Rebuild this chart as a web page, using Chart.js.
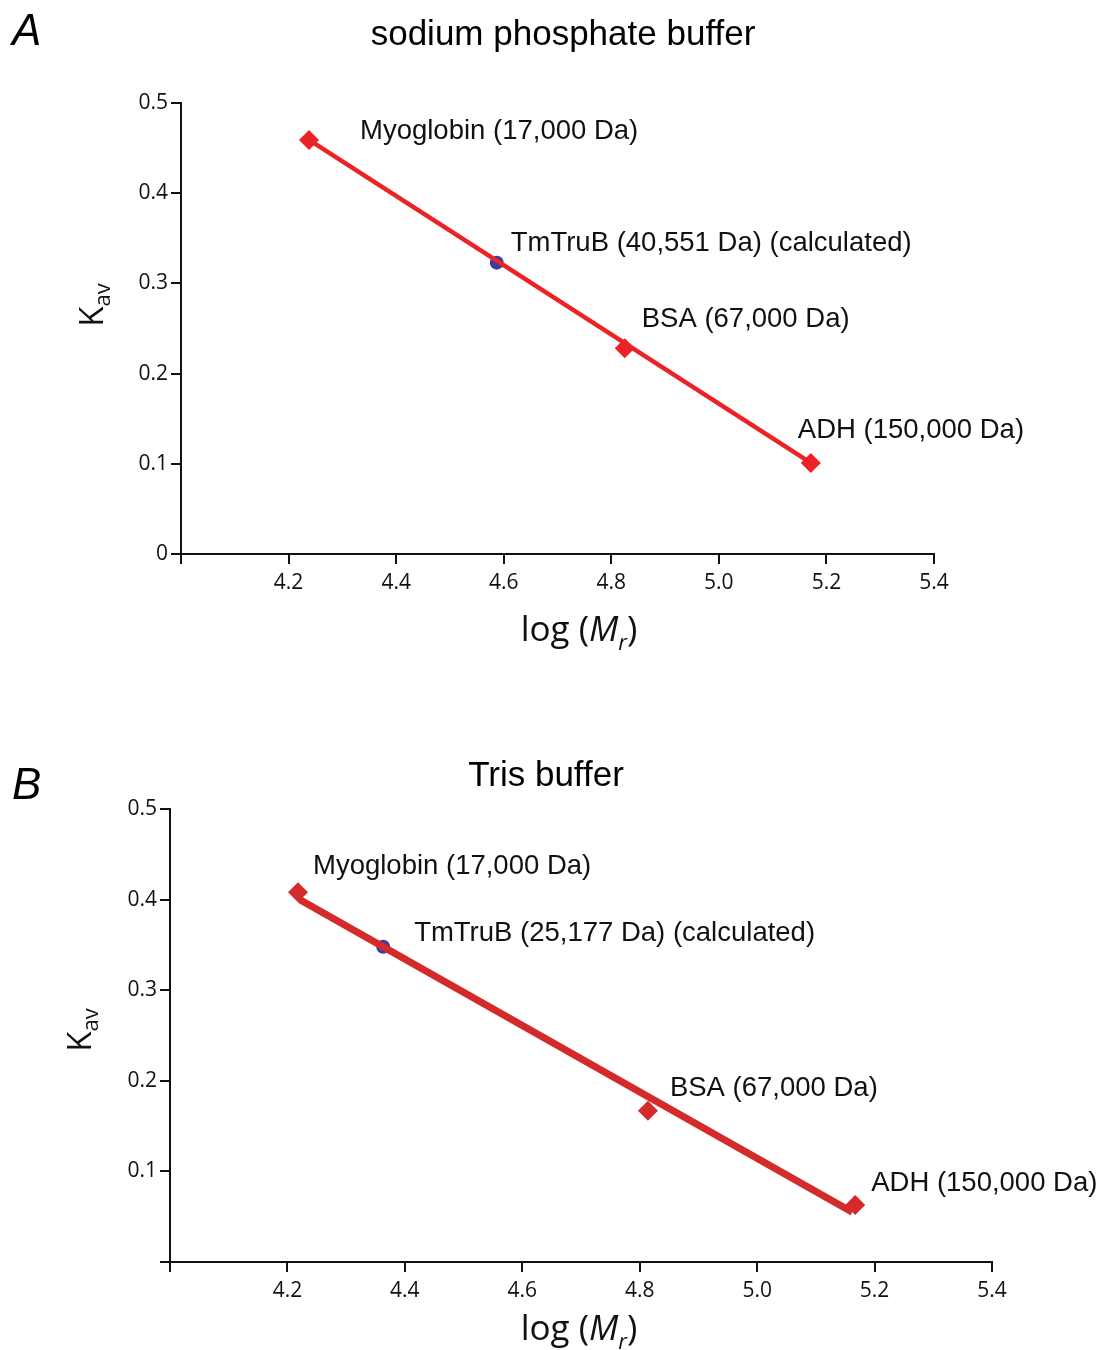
<!DOCTYPE html>
<html>
<head>
<meta charset="utf-8">
<script src="https://cdn.jsdelivr.net/npm/chart.js@4.4.1/dist/chart.umd.min.js"></script>
<style>
  body { margin: 0; background: #fff; }
  canvas { position: absolute; left: 0; }
</style>
</head>
<body>
<canvas id="panel_a" width="1104" height="675" style="top:0"></canvas>
<canvas id="panel_b" width="1104" height="675" style="top:675px"></canvas>
<script>
// Panel A - sodium phosphate buffer
const standardNamesA = ['Myoglobin (17,000 Da)', 'BSA (67,000 Da)', 'ADH (150,000 Da)']
const standardLogMrA = [4.238, 4.825, 5.171]
const standardKavA = [0.459, 0.228, 0.101]
const sampleNameA = 'TmTruB (40,551 Da) (calculated)'
const sampleLogMrA = [4.587]
const sampleKavA = [0.323]
const fitLogMrA = [4.238, 5.171]
const fitKavA = [0.459, 0.101]

// Panel B - Tris buffer
const standardNamesB = ['Myoglobin (17,000 Da)', 'BSA (67,000 Da)', 'ADH (150,000 Da)']
const standardLogMrB = [4.218, 4.814, 5.167]
const standardKavB = [0.408, 0.167, 0.063]
const sampleNameB = 'TmTruB (25,177 Da) (calculated)'
const sampleLogMrB = [4.363]
const sampleKavB = [0.348]
const fitLogMrB = [4.221, 5.162]
const fitKavB = [0.400, 0.055]

const xTicks = [4.0, 4.2, 4.4, 4.6, 4.8, 5.0, 5.2, 5.4]
const yTicks = [0, 0.1, 0.2, 0.3, 0.4, 0.5]

const ink = '#111'
const tickFont = { family: 'Open Sans', size: 21 }

function toPoints(xs, ys) {
    return xs.map((x, i) => ({ x: x, y: ys[i] }))
}

// draws panel letter, title, axis titles and the point labels
const panelText = {
    id: 'panelText',
    afterDatasetsDraw(chart, args, o) {
        const ctx = chart.ctx
        ctx.save()
        ctx.fillStyle = '#000'
        ctx.textBaseline = 'alphabetic'

        ctx.font = 'italic 44px "Liberation Sans"'
        ctx.textAlign = 'left'
        ctx.fillText(o.letter, 12, o.letterY)

        ctx.font = '35px "Liberation Sans"'
        ctx.textAlign = 'center'
        ctx.fillText(o.title, o.titleX, o.titleY)

        // x title: log (M_r)
        ctx.fillStyle = ink
        ctx.textAlign = 'left'
        const big = '35px "Open Sans"', ital = 'italic 35px "Open Sans"', sub = 'italic 22px "Open Sans"'
        const parts = [['log (', big, 0], ['M', ital, 0], ['r', sub, 9], [')', big, 0]]
        let w = 0
        parts.forEach(p => { ctx.font = p[1]; w += ctx.measureText(p[0]).width })
        let x = o.xTitleX - w / 2
        parts.forEach(p => {
            ctx.font = p[1]
            ctx.fillText(p[0], x, o.xTitleY + p[2])
            x += ctx.measureText(p[0]).width
        })

        // y title: K_av
        ctx.save()
        ctx.translate(o.yTitleX, o.yTitleY)
        ctx.rotate(-Math.PI / 2)
        ctx.font = '33px "Open Sans"'
        const kw = ctx.measureText('K').width
        ctx.font = '22px "Open Sans"'
        const sw = ctx.measureText('av').width
        ctx.font = '33px "Open Sans"'
        ctx.fillText('K', -(kw + sw) / 2, 11)
        ctx.font = '22px "Open Sans"'
        ctx.fillText('av', -(kw + sw) / 2 + kw, 18)
        ctx.restore()

        // labels beside the points
        ctx.font = '27.5px "Liberation Sans"'
        ctx.fillStyle = '#111'
        ctx.textBaseline = 'middle'
        const std = chart.getDatasetMeta(1).data
        std.forEach((pt, i) => {
            ctx.fillText(o.names[i], pt.x + o.offsets[i][0], pt.y + o.offsets[i][1])
        })
        const smp = chart.getDatasetMeta(2).data[0]
        ctx.fillText(o.sampleName, smp.x + o.sampleOffset[0], smp.y + o.sampleOffset[1])
        ctx.restore()
    }
}

function makePanel(id, d) {
    const context = document.querySelector(id).getContext('2d')
    return new Chart(context, {
        type: 'scatter',
        data: {
            datasets: [{
                data: toPoints(d.fitX, d.fitY),
                showLine: true,
                borderColor: d.lineColor,
                borderWidth: d.lineWidth,
                pointRadius: 0,
            }, {
                data: toPoints(d.stdX, d.stdY),
                pointStyle: 'rectRot',
                pointRadius: 10,
                backgroundColor: d.lineColor,
                borderWidth: 0,
            }, {
                data: toPoints(d.smpX, d.smpY),
                pointStyle: 'circle',
                pointRadius: 7,
                backgroundColor: '#3b3f9c',
                borderWidth: 0,
            }],
        },
        options: {
            responsive: false,
            animation: false,
            events: [],
            layout: { padding: d.padding },
            plugins: {
                legend: { display: false },
                tooltip: { enabled: false },
                panelText: d.text,
            },
            scales: {
                x: {
                    type: 'linear',
                    min: xTicks[0],
                    max: xTicks[xTicks.length - 1],
                    afterBuildTicks: s => { s.ticks = xTicks.map(v => ({ value: v })) },
                    afterFit: s => { s.height = 80 },
                    ticks: {
                        font: tickFont,
                        color: ink,
                        padding: 6,
                        maxRotation: 0,
                        callback: v => v === xTicks[0] ? '' : v.toFixed(1),
                    },
                    grid: { drawOnChartArea: false, drawTicks: true, tickLength: 10, color: ink, lineWidth: 2 },
                    border: { display: true, color: ink, width: 2 },
                },
                y: {
                    min: yTicks[0],
                    max: yTicks[yTicks.length - 1],
                    afterBuildTicks: s => { s.ticks = yTicks.map(v => ({ value: v })) },
                    afterFit: s => { s.width = 60 },
                    ticks: {
                        font: tickFont,
                        color: ink,
                        padding: 3,
                        callback: v => v === 0 ? d.zeroLabel : v.toFixed(1),
                    },
                    grid: { drawOnChartArea: false, drawTicks: true, tickLength: 10, color: ink, lineWidth: 2 },
                    border: { display: true, color: ink, width: 2 },
                },
            },
        },
        plugins: [panelText],
    })
}

window.onload = function () {
    makePanel('#panel_a', {
        fitX: fitLogMrA, fitY: fitKavA,
        stdX: standardLogMrA, stdY: standardKavA,
        smpX: sampleLogMrA, smpY: sampleKavA,
        lineColor: '#ec2227', lineWidth: 4.5,
        zeroLabel: '0',
        padding: { left: 121, right: 170, top: 103, bottom: 41 },
        text: {
            letter: 'A', letterY: 45,
            title: 'sodium phosphate buffer', titleX: 563, titleY: 45,
            xTitleX: 579, xTitleY: 641,
            yTitleX: 92, yTitleY: 305,
            names: standardNamesA,
            offsets: [[51, -9], [17, -29], [-13, -32]],
            sampleName: sampleNameA, sampleOffset: [14, -19],
        },
    })
    makePanel('#panel_b', {
        fitX: fitLogMrB, fitY: fitKavB,
        stdX: standardLogMrB, stdY: standardKavB,
        smpX: sampleLogMrB, smpY: sampleKavB,
        lineColor: '#d42a2a', lineWidth: 7,
        zeroLabel: '',
        padding: { left: 110, right: 112, top: 134, bottom: 8 },
        text: {
            letter: 'B', letterY: 124,
            title: 'Tris buffer', titleX: 546, titleY: 111,
            xTitleX: 579, xTitleY: 665,
            yTitleX: 80, yTitleY: 355,
            names: standardNamesB,
            offsets: [[15, -26], [22, -22], [16, -22]],
            sampleName: sampleNameB, sampleOffset: [31, -13],
        },
    })
}
</script>
</body>
</html>
